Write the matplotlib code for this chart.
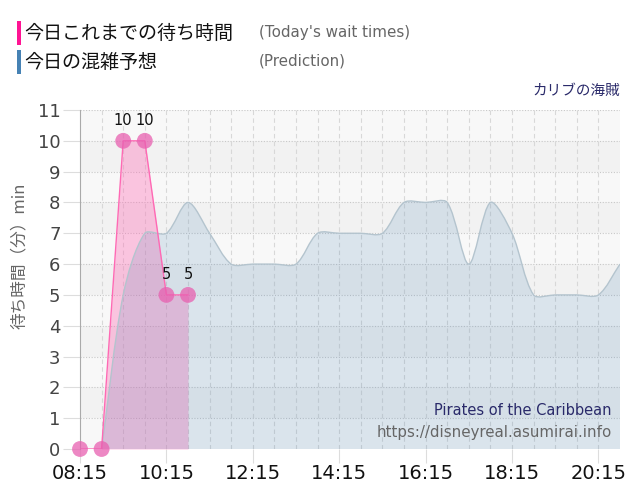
import numpy as np
import matplotlib
matplotlib.use("Agg")
import matplotlib.pyplot as plt
from matplotlib.path import Path
from matplotlib.patches import PathPatch, Rectangle

plt.rcParams['font.family'] = ['DejaVu Sans', 'Noto Sans CJK JP']

# minutes after 08:15
actual_t = [0, 30, 60, 90, 120, 150]
actual_v = [0, 0, 10, 10, 5, 5]

pred_t = [30, 60, 90, 120, 150, 180, 210, 240, 270, 300, 330, 360, 390, 420,
          450, 480, 510, 540, 570, 600, 630, 660, 690, 720, 750]
pred_v = [0, 5, 7, 7, 8, 7, 6, 6, 6, 6, 7, 7, 7, 7,
          8, 8, 8, 6, 8, 7, 5, 5, 5, 5, 6]

tick_pos = [0, 120, 240, 360, 480, 600, 720]
tick_lab = ['08:15', '10:15', '12:15', '14:15', '16:15', '18:15', '20:15']


def spline_path(x, y, tension=0.3, sx=21.5 / 30, sy=30.8):
    # cardinal-style spline like chart.js, distances measured in pixels
    x = np.asarray(x, float)
    y = np.asarray(y, float)
    n = len(x)
    cp_prev = [None] * n
    cp_next = [None] * n
    for i in range(n):
        p = np.array([x[max(i - 1, 0)], y[max(i - 1, 0)]])
        c = np.array([x[i], y[i]])
        q = np.array([x[min(i + 1, n - 1)], y[min(i + 1, n - 1)]])
        d01 = np.hypot((c[0] - p[0]) * sx, (c[1] - p[1]) * sy)
        d12 = np.hypot((q[0] - c[0]) * sx, (q[1] - c[1]) * sy)
        tot = d01 + d12
        fa = tension * d01 / tot if tot else 0
        fb = tension * d12 / tot if tot else 0
        cp_prev[i] = c - fa * (q - p)
        cp_next[i] = c + fb * (q - p)
    verts = [(x[0], y[0])]
    codes = [Path.MOVETO]
    for i in range(n - 1):
        verts += [tuple(cp_next[i]), tuple(cp_prev[i + 1]), (x[i + 1], y[i + 1])]
        codes += [Path.CURVE4] * 3
    return verts, codes


fig = plt.figure(figsize=(6.4, 5), dpi=100)
ax = fig.add_axes([0.125, 0.102, 0.84375, 0.678])
ax.set_xlim(0, 750)
ax.set_ylim(0, 11)

# background bands
for k in range(11):
    c = '#f2f2f2' if k % 2 == 1 else '#f8f8f8'
    ax.add_patch(Rectangle((0, k), 750, 1, facecolor=c, edgecolor='none', zorder=0))

for yv in range(1, 12):
    ax.axhline(yv, color='#c8c8c8', lw=0.8, ls=(0, (1, 1.5)), zorder=1)
for xv in range(30, 750, 30):
    ax.axvline(xv, color='#d8d8d8', lw=0.8, ls=(0, (4, 3)), zorder=1)

# today's wait times (fill underneath)
ax.fill_between(actual_t, actual_v, 0, color='#ff69b4', alpha=0.36, lw=0, zorder=2)

# prediction
verts, codes = spline_path(pred_t, pred_v)
line = Path(verts, codes)
fill = Path(verts + [(pred_t[-1], 0), (pred_t[0], 0), (pred_t[0], 0)],
            codes + [Path.LINETO, Path.LINETO, Path.CLOSEPOLY])
ax.add_patch(PathPatch(fill, facecolor='#4682b4', edgecolor='none', alpha=0.17, zorder=3))
ax.add_patch(PathPatch(line, facecolor='none', edgecolor='#b4c4ce', lw=1, zorder=4))

ax.plot(actual_t, actual_v, color='#ff69b4', lw=1, zorder=5)
ax.scatter(actual_t, actual_v, s=130, color='#e860b0', alpha=0.75, zorder=6,
           clip_on=False, edgecolors='none')
for t, v in zip(actual_t, actual_v):
    if v > 0:
        ax.annotate(str(v), (t, v), xytext=(0, 9), textcoords='offset points',
                    ha='center', va='bottom', fontsize=10.5, color='#111111', zorder=7)

ax.set_xticks(tick_pos)
ax.set_xticklabels(tick_lab, fontsize=14, color='#111111')
ax.set_yticks(range(12))
ax.set_yticklabels([str(i) for i in range(12)], fontsize=13, color='#444444')
ax.tick_params(axis='y', length=12, color='#dddddd', pad=2)
ax.tick_params(axis='x', length=10, color='#dddddd', pad=1)
for s in ['top', 'right', 'bottom']:
    ax.spines[s].set_visible(False)
ax.spines['left'].set_color('#aaaaaa')
ax.set_ylabel('待ち時間（分）min', fontsize=12, color='#666666',
              family=['Noto Sans CJK JP', 'DejaVu Sans'])
ax.yaxis.set_label_coords(-0.096, 0.57)

ax.text(0.985, 0.115, 'Pirates of the Caribbean', transform=ax.transAxes,
        ha='right', va='center', fontsize=10.5, color='#2a2a6a', zorder=8)
ax.text(0.985, 0.05, 'https://disneyreal.asumirai.info', transform=ax.transAxes,
        ha='right', va='center', fontsize=10.8, color='#666666', zorder=8)

# header
jp = ['Noto Sans CJK JP', 'DejaVu Sans']
fig.patches.append(Rectangle((17 / 640, 1 - 45 / 500), 4 / 640, 24 / 500,
                             transform=fig.transFigure, facecolor='#ff1493', edgecolor='none'))
fig.patches.append(Rectangle((17 / 640, 1 - 74 / 500), 4 / 640, 24 / 500,
                             transform=fig.transFigure, facecolor='#4682b4', edgecolor='none'))
fig.text(24 / 640, 1 - 33 / 500, '今日これまでの待ち時間', fontsize=13.7, va='center',
         color='#111111', family=jp)
fig.text(24 / 640, 1 - 62 / 500, '今日の混雑予想', fontsize=13.7, va='center',
         color='#111111', family=jp)
fig.text(259 / 640, 1 - 32 / 500, "(Today's wait times)", fontsize=10.9, va='center',
         color='#666666')
fig.text(259 / 640, 1 - 61 / 500, '(Prediction)', fontsize=10.9, va='center',
         color='#666666')
fig.text(620 / 640, 1 - 91 / 500, 'カリブの海賊', fontsize=10.5, va='center', ha='right',
         color='#2a2a6a', family=jp)

fig.savefig('out.png', dpi=100)
